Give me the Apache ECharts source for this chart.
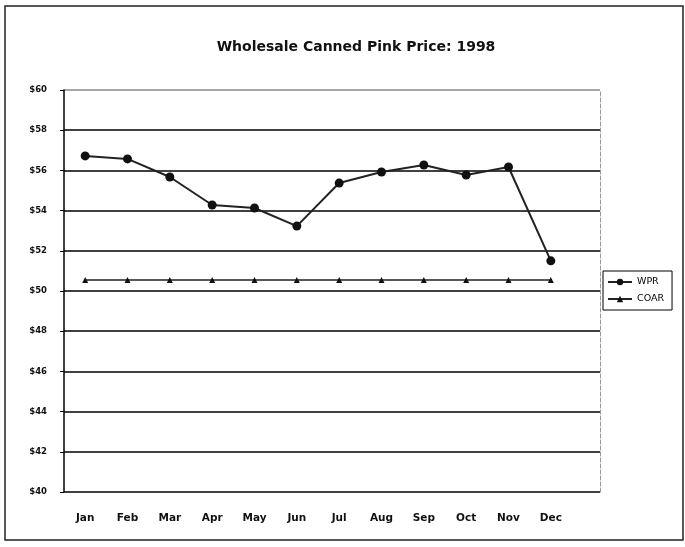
<!DOCTYPE html>
<html>
<head>
<meta charset="utf-8">
<script src="https://cdn.jsdelivr.net/npm/echarts@6/dist/echarts.min.js"></script>
<style>
  html, body { margin: 0; padding: 0; background: #fff; }
  #chart { width: 685px; height: 547px; }
</style>
</head>
<body>
<div id="chart"></div>
<script>
const months = ['Jan', 'Feb', 'Mar', 'Apr', 'May', 'Jun', 'Jul', 'Aug', 'Sep', 'Oct', 'Nov', 'Dec']
const wpr = [56.72, 56.57, 55.67, 54.28, 54.13, 53.23, 55.37, 55.92, 56.27, 55.77, 56.17, 51.5]
const coar = [50.55, 50.55, 50.55, 50.55, 50.55, 50.55, 50.55, 50.55, 50.55, 50.55, 50.55, 50.55]
const yMin = 40
const yMax = 60
const yStep = 2

const font = 'DejaVu Sans'
// last split line ($60) is drawn grey in the original
const splitColors = ['#000', '#000', '#000', '#000', '#000', '#000', '#000', '#000', '#000', '#000', '#888']

const option = {
  animation: false,
  backgroundColor: '#fff',
  title: {
    text: 'Wholesale Canned Pink Price: 1998',
    left: 351,
    textAlign: 'center',
    top: 35,
    textStyle: { fontFamily: font, fontSize: 14, fontWeight: 'bold', color: '#111' }
  },
  legend: {
    orient: 'vertical',
    left: 603,
    top: 271,
    width: 80,
    padding: [6, 8, 6, 4],
    itemGap: 7,
    itemWidth: 24,
    itemHeight: 8,
    borderColor: '#000',
    borderWidth: 1,
    textStyle: { fontFamily: font, fontSize: 9.5, color: '#000' },
    data: ['WPR', 'COAR']
  },
  graphic: [{
    type: 'rect',
    shape: { x: 5, y: 6, width: 678, height: 534 },
    style: { fill: 'none', stroke: '#222', lineWidth: 1.5 },
    silent: true
  }],
  grid: [
    // data grid: categories end where Dec band ends
    { left: 64, top: 90, right: 113, bottom: 55 },
    // background grid: split lines run on to the dotted right edge
    { left: 64, top: 90, right: 85, bottom: 55 }
  ],
  xAxis: [
    {
      type: 'category',
      gridIndex: 0,
      data: months,
      boundaryGap: true,
      axisLine: { show: false },
      axisTick: { show: false },
      axisLabel: { margin: 21, fontFamily: font, fontSize: 10.5, fontWeight: 'bold', color: '#111' }
    },
    {
      type: 'value',
      gridIndex: 1,
      show: false
    }
  ],
  yAxis: [
    { type: 'value', gridIndex: 0, min: yMin, max: yMax, interval: yStep, show: false },
    {
      type: 'value',
      gridIndex: 1,
      min: yMin,
      max: yMax,
      interval: yStep,
      position: 'left',
      axisLine: { show: true, lineStyle: { color: '#000', width: 1.5 } },
      axisTick: { show: true, length: 4, lineStyle: { color: '#000' } },
      axisLabel: {
        margin: 17,
        fontFamily: font,
        fontSize: 8.5,
        fontWeight: 'bold',
        color: '#111',
        formatter: v => '$' + v
      },
      splitLine: { show: true, lineStyle: { color: splitColors, width: 1.6 } }
    },
    {
      type: 'value',
      gridIndex: 1,
      min: yMin,
      max: yMax,
      interval: yStep,
      position: 'right',
      axisLine: { show: true, lineStyle: { color: '#999', width: 1, type: 'dashed' } },
      axisTick: { show: false },
      axisLabel: { show: false },
      splitLine: { show: false }
    }
  ],
  series: [
    {
      name: 'WPR',
      type: 'line',
      xAxisIndex: 0,
      yAxisIndex: 0,
      data: wpr,
      symbol: 'circle',
      symbolSize: 9,
      itemStyle: { color: '#111' },
      lineStyle: { color: '#222', width: 2 }
    },
    {
      name: 'COAR',
      type: 'line',
      xAxisIndex: 0,
      yAxisIndex: 0,
      data: coar,
      symbol: 'triangle',
      symbolSize: 6,
      itemStyle: { color: '#111' },
      lineStyle: { color: '#222', width: 1.5 }
    }
  ]
}

const chart = echarts.init(document.getElementById('chart'))
chart.setOption(option)
</script>
</body>
</html>
